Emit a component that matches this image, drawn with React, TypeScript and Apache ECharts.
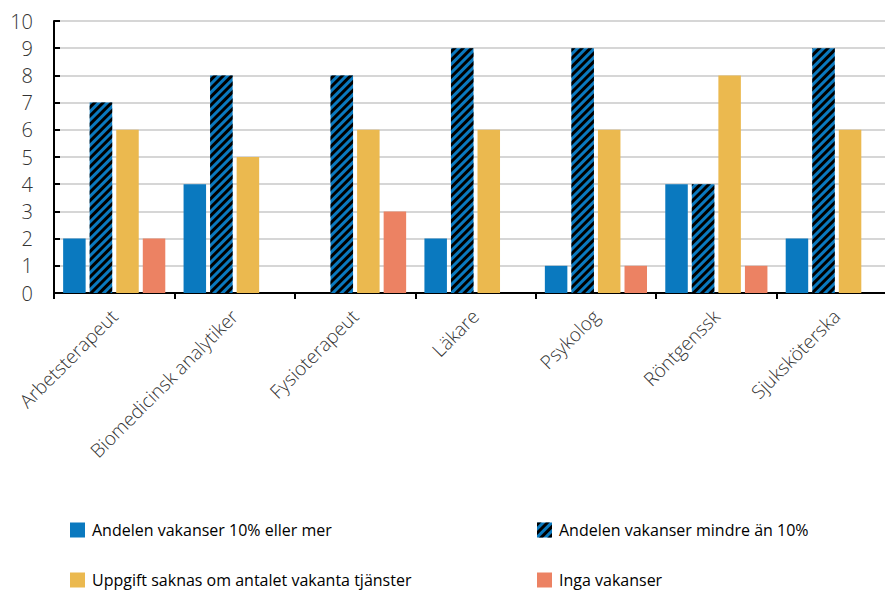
import React, { useEffect, useRef } from "react";
import * as echarts from "echarts";

const categories = [
  "Arbetsterapeut",
  "Biomedicinsk analytiker",
  "Fysioterapeut",
  "Läkare",
  "Psykolog",
  "Röntgenssk",
  "Sjuksköterska",
];
const seriesNames = [
  "Andelen vakanser 10% eller mer",
  "Andelen vakanser mindre än 10%",
  "Uppgift saknas om antalet vakanta tjänster",
  "Inga vakanser",
];
const over10 = [2, 4, 0, 2, 1, 4, 2];
const under10 = [7, 8, 8, 9, 9, 4, 9];
const missing = [6, 5, 6, 6, 6, 8, 6];
const none = [2, 0, 3, 0, 1, 1, 0];
const yTicks = [0, 1, 2, 3, 4, 5, 6, 7, 8, 9, 10];

const BLUE = "#0a79bf";
const YELLOW = "#ebb94f";
const ORANGE = "#ec8263";
const FONT = "'Open Sans', 'Noto Sans', sans-serif";

export default function App() {
  const ref = useRef<HTMLDivElement>(null);
  useEffect(() => {
    if (!ref.current) return;
    const chart = echarts.init(ref.current, undefined, { renderer: "svg" });
    const hatch = {
      symbol: "rect",
      symbolSize: 1,
      color: "#000",
      dashArrayX: [1, 0],
      dashArrayY: [3, 3],
      rotation: -Math.PI / 4,
    };
    const data = [over10, under10, missing, none];
    const colors = [BLUE, BLUE, YELLOW, ORANGE];
    const legendPos = [
      { left: 70, top: 522 },
      { left: 537, top: 522 },
      { left: 70, top: 572 },
      { left: 537, top: 572 },
    ];
    chart.setOption({
      animation: false,
      textStyle: { fontFamily: FONT },
      grid: { left: 54, right: 3, top: 21, bottom: 299, containLabel: false },
      legend: seriesNames.map((n, i) => ({
        data: [n],
        left: legendPos[i].left,
        top: legendPos[i].top,
        itemWidth: 15,
        itemHeight: 15,
        itemGap: 0,
        padding: 0,
        icon: "rect",
        selectedMode: false,
        textStyle: { fontFamily: FONT, fontSize: 16, color: "#000", padding: [0, 0, 0, 2] },
      })),
      xAxis: {
        type: "category",
        data: categories,
        axisLine: { lineStyle: { color: "#000", width: 2 } },
        axisTick: { show: true, length: 6, lineStyle: { color: "#000", width: 2 } },
        axisLabel: {
          rotate: 45,
          interval: 0,
          fontSize: 19,
          fontWeight: 300,
          color: "#333",
          fontFamily: FONT,
          margin: 20,
        },
      },
      yAxis: {
        type: "value",
        min: 0,
        max: 10,
        interval: 1,
        axisLine: { show: true, lineStyle: { color: "#000", width: 2 } },
        axisTick: { show: true, inside: true, length: 6, lineStyle: { color: "#000", width: 2 } },
        splitLine: { lineStyle: { color: "#c8c8c8", width: 1.5 } },
        axisLabel: {
          fontSize: 20,
          fontWeight: 300,
          color: "#333",
          fontFamily: FONT,
          margin: 21,
          formatter: (v: number) => (yTicks.includes(v) ? String(v) : ""),
        },
      },
      series: seriesNames.map((n, i) => ({
        name: n,
        type: "bar",
        data: data[i],
        barWidth: 22.5,
        barGap: "18%",
        itemStyle: {
          color: colors[i],
          ...(i === 1 ? { decal: hatch } : {}),
        },
      })),
    });
    return () => chart.dispose();
  }, []);
  return (
    <div
      ref={ref}
      style={{ position: "fixed", left: 0, top: 0, width: 900, height: 592, background: "#fff" }}
    />
  );
}
